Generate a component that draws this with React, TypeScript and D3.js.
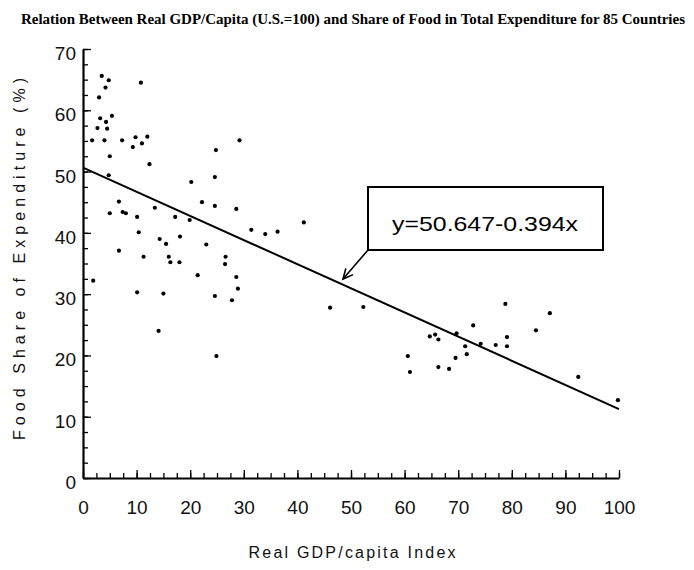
import React, { useEffect, useRef } from "react";
import * as d3 from "d3";

const titleText =
  "Relation Between Real GDP/Capita (U.S.=100) and Share of Food in Total Expenditure for 85 Countries";
const xLabel = "Real GDP/capita Index";
const yLabel = "Food Share of Expenditure (%)";
const equationLabel = "y=50.647-0.394x";
const intercept = 50.647;
const slope = -0.394;

const xTickValues = [0, 10, 20, 30, 40, 50, 60, 70, 80, 90, 100];
const yTickValues = [0, 10, 20, 30, 40, 50, 60, 70];

const gdpIndex = [
  3.5, 4.8, 4.2, 3.0, 10.8, 3.2, 4.3, 5.4, 2.7, 4.5, 1.7, 4.0, 7.3, 9.8, 9.3, 11.0, 12.0, 5.0, 12.4, 4.8,
  24.8, 24.6, 20.2, 22.2, 24.6, 28.6, 6.7, 5.0, 7.4, 8.0, 10.1, 13.4, 17.2, 29.2,
  19.9, 10.4, 6.7, 11.3, 14.3, 15.5, 18.1, 16.0, 16.3, 18.0, 23.0, 26.6, 26.5, 21.4, 28.6, 28.9, 1.9, 10.1,
  15.0, 24.6, 27.8, 14.1, 24.9,
  31.4, 34.0, 36.3, 41.2, 46.1, 52.3,
  78.8, 87.1, 84.5, 72.8, 69.7, 64.7, 65.7, 66.3, 71.3, 74.2, 77.0, 79.1, 79.1, 71.6, 69.5, 60.6, 61.0, 66.3,
  68.3, 92.4, 99.8,
];
const foodShare = [
  65.6, 64.9, 63.7, 62.1, 64.5, 58.7, 58.1, 59.1, 57.1, 57.0, 55.1, 55.1, 55.1, 55.6, 54.0, 54.6, 55.7, 52.5,
  51.2, 49.4,
  53.5, 49.1, 48.3, 45.0, 44.4, 43.9, 45.1, 43.2, 43.4, 43.2, 42.6, 44.1, 42.6, 55.1,
  42.1, 40.1, 37.1, 36.1, 39.0, 38.2, 39.4, 36.1, 35.2, 35.2, 38.1, 36.1, 34.9, 33.1, 32.8, 30.9, 32.2, 30.3,
  30.1, 29.7, 29.0, 24.0, 19.9,
  40.5, 39.8, 40.2, 41.7, 27.8, 27.9,
  28.4, 26.9, 24.1, 24.9, 23.6, 23.1, 23.4, 22.6, 21.5, 21.9, 21.7, 23.0, 21.5, 20.2, 19.6, 19.9, 17.3, 18.1,
  17.8, 16.5, 12.7,
];

const W = 694;
const H = 570;
const x = d3.scaleLinear().domain([0, 100]).range([83, 619]);
const y = d3.scaleLinear().domain([0, 70]).range([478, 49]);

export default function App() {
  const xAxisRef = useRef<SVGGElement>(null);
  const xMinorRef = useRef<SVGGElement>(null);
  const yAxisRef = useRef<SVGGElement>(null);
  const yMinorRef = useRef<SVGGElement>(null);

  useEffect(() => {
    const font = "'Liberation Sans', Arial, sans-serif";
    const xa = d3.select(xAxisRef.current!);
    xa.call(
      d3.axisBottom(x).tickValues(xTickValues).tickSizeInner(-8).tickSizeOuter(0).tickPadding(0).tickFormat(d3.format("d"))
    );
    xa.select(".domain").attr("stroke", "#000").attr("stroke-width", 2.2);
    xa.selectAll(".tick line").attr("stroke", "#000").attr("stroke-width", 1.3);
    xa.selectAll(".tick text")
      .attr("y", 36)
      .attr("dy", 0)
      .attr("fill", "#111")
      .style("font-family", font)
      .style("font-size", "19px");

    const xm = d3.select(xMinorRef.current!);
    xm.call(
      d3.axisBottom(x).tickValues(d3.range(0, 100.01, 2.5)).tickSizeInner(-5).tickSizeOuter(0).tickFormat(() => "")
    );
    xm.select(".domain").remove();
    xm.selectAll(".tick line").attr("stroke", "#000").attr("stroke-width", 1.3);

    const ya = d3.select(yAxisRef.current!);
    ya.call(
      d3.axisLeft(y).tickValues(yTickValues).tickSizeInner(-8).tickSizeOuter(0).tickPadding(0).tickFormat(d3.format("d"))
    );
    ya.select(".domain").attr("stroke", "#000").attr("stroke-width", 2.2);
    ya.selectAll(".tick line").attr("stroke", "#000").attr("stroke-width", 1.3);
    ya.selectAll(".tick text")
      .attr("x", -7)
      .attr("dy", "0.55em")
      .attr("fill", "#111")
      .style("font-family", font)
      .style("font-size", "19px");

    const ym = d3.select(yMinorRef.current!);
    ym.call(
      d3.axisLeft(y).tickValues(d3.range(0, 70.01, 2.5)).tickSizeInner(-5).tickSizeOuter(0).tickFormat(() => "")
    );
    ym.select(".domain").remove();
    ym.selectAll(".tick line").attr("stroke", "#000").attr("stroke-width", 1.3);
  }, []);

  const line = d3
    .line<number>()
    .x((d) => x(d))
    .y((d) => y(intercept + slope * d));

  const points = gdpIndex.map((g, i) => ({ g, f: foodShare[i] }));

  const ax0 = 368, ay0 = 250, ax1 = 343, ay1 = 279;
  const ang = Math.atan2(ay1 - ay0, ax1 - ax0);
  const hl = 11;
  const h1 = [ax1 - hl * Math.cos(ang - 0.45), ay1 - hl * Math.sin(ang - 0.45)];
  const h2 = [ax1 - hl * Math.cos(ang + 0.45), ay1 - hl * Math.sin(ang + 0.45)];

  return (
    <svg
      width={W}
      height={H}
      style={{ position: "absolute", left: 0, top: 0, background: "#fff" }}
    >
      <rect width={W} height={H} fill="#fff" />
      <text
        transform="translate(21,24) scale(1,1.15)"
        x={0}
        y={0}
        textLength={664}
        lengthAdjust="spacingAndGlyphs"
        style={{ fontFamily: "'Liberation Serif', 'Times New Roman', serif", fontSize: 13.5, fontWeight: 700 }}
        fill="#000"
      >
        {titleText}
      </text>

      <g ref={xMinorRef} transform={`translate(0,${y(0)})`} />
      <g ref={yMinorRef} transform={`translate(${x(0)},0)`} />
      <g ref={xAxisRef} transform={`translate(0,${y(0)})`} />
      <g ref={yAxisRef} transform={`translate(${x(0)},0)`} />

      <path d={line([0, 100]) || ""} stroke="#000" strokeWidth={2} fill="none" />

      {points.map((p, i) => (
        <circle key={i} cx={x(p.g)} cy={y(p.f)} r={2.1} fill="#000" />
      ))}

      <rect x={368} y={187} width={235} height={63} fill="#fff" stroke="#000" strokeWidth={2} />
      <text
        x={485}
        y={231}
        textAnchor="middle"
        textLength={186}
        lengthAdjust="spacingAndGlyphs"
        style={{ fontFamily: "'Liberation Sans', Arial, sans-serif", fontSize: 21 }}
        fill="#000"
      >
        {equationLabel}
      </text>
      <line x1={ax0} y1={ay0} x2={ax1} y2={ay1} stroke="#000" strokeWidth={1.6} />
      <polyline
        points={`${h1[0]},${h1[1]} ${ax1},${ay1} ${h2[0]},${h2[1]}`}
        fill="none"
        stroke="#000"
        strokeWidth={1.6}
      />

      <text
        x={352}
        y={558}
        textAnchor="middle"
        textLength={207}
        lengthAdjust="spacing"
        style={{ fontFamily: "'Liberation Sans', Arial, sans-serif", fontSize: 16 }}
        fill="#111"
      >
        {xLabel}
      </text>
      <text
        transform="translate(25,259) rotate(-90)"
        textAnchor="middle"
        textLength={362}
        lengthAdjust="spacing"
        style={{ fontFamily: "'Liberation Sans', Arial, sans-serif", fontSize: 16 }}
        fill="#111"
      >
        {yLabel}
      </text>
    </svg>
  );
}
